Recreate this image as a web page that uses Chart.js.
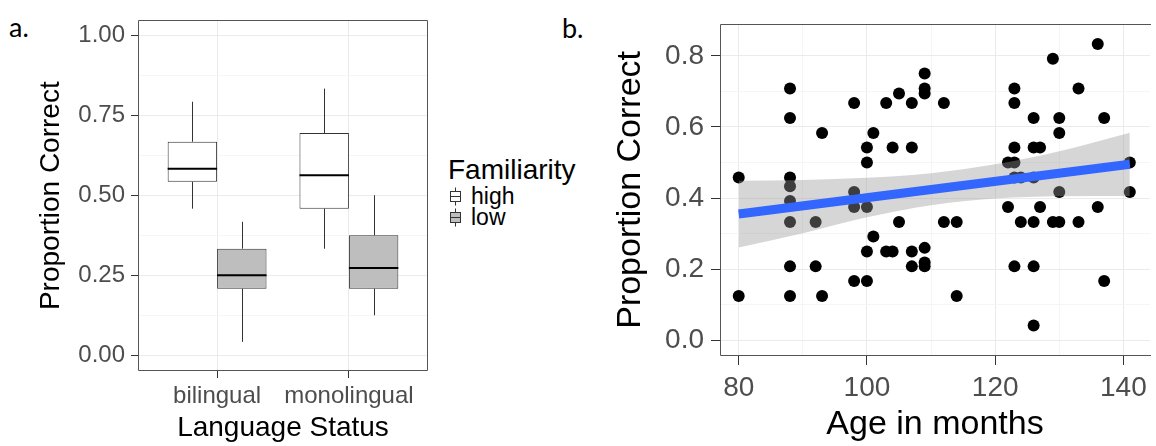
<!DOCTYPE html>
<html>
<head>
<meta charset="utf-8">
<script src="https://cdn.jsdelivr.net/npm/chart.js@4.4.1/dist/chart.umd.min.js"></script>
<style>
  html, body { margin: 0; padding: 0; background: #fff; overflow: hidden; }
  body { width: 1156px; height: 446px; position: relative; font-family: "Liberation Sans", Arial, sans-serif; }
  canvas { position: absolute; top: 0; }
  #boxCanvas { left: 0; }
  #scatterCanvas { left: 596px; }
  .tag { position: absolute; font-family: Lato, "Liberation Sans", sans-serif; font-size: 27px; line-height: 27px; color: #000; }
  #legend { position: absolute; left: 448px; top: 156px; color: #000; }
  #legend .title { font-size: 28px; line-height: 28px; margin-bottom: 1.5px; }
  #legend .row { display: flex; align-items: center; height: 21px; font-size: 23px; line-height: 21px; }
  #legend svg { margin: 0 10px 0 2px; }
</style>
</head>
<body>
<div class="tag" style="left:9px; top:13px;">a.</div>
<div class="tag" style="left:562px; top:14px;">b.</div>
<canvas id="boxCanvas" width="440" height="446"></canvas>
<canvas id="scatterCanvas" width="560" height="446"></canvas>
<div id="legend">
  <div class="title">Familiarity</div>
  <div class="row">
    <svg width="11" height="21" viewBox="0 0 11 21"><line x1="5.5" y1="1.5" x2="5.5" y2="19.5" stroke="#333"/><rect x="0.5" y="5.5" width="10" height="10" fill="#fff" stroke="#333"/><line x1="0.5" y1="10.5" x2="10.5" y2="10.5" stroke="#333"/></svg>
    <span>high</span>
  </div>
  <div class="row">
    <svg width="11" height="21" viewBox="0 0 11 21"><line x1="5.5" y1="1.5" x2="5.5" y2="19.5" stroke="#333"/><rect x="0.5" y="5.5" width="10" height="10" fill="#bebebe" stroke="#333"/><line x1="0.5" y1="10.5" x2="10.5" y2="10.5" stroke="#333"/></svg>
    <span>low</span>
  </div>
</div>
<script>
// ---- a. box plots: proportion correct by language status and familiarity ----
const languageStatus = ["bilingual", "monolingual"];
const highMin = [0.458, 0.333];
const highQ1 = [0.542, 0.458];
const highMedian = [0.583, 0.5625];
const highQ3 = [0.667, 0.694];
const highMax = [0.792, 0.833];
const lowMin = [0.042, 0.125];
const lowQ1 = [0.208, 0.208];
const lowMedian = [0.25, 0.273];
const lowQ3 = [0.333, 0.375];
const lowMax = [0.417, 0.5];
const boxMajorTicks = [0, 0.25, 0.5, 0.75, 1];
const boxMinorTicks = [0.125, 0.375, 0.625, 0.875];

// ---- b. proportion correct against age, with linear fit and 95% band ----
const ageMonths = [
  80, 80,
  88, 88, 88, 88, 88, 88, 88, 88,
  92, 92,
  93, 93,
  98, 98, 98, 98,
  100, 100, 100, 100, 100,
  101, 101,
  103, 103,
  104, 104,
  105, 105,
  107, 107, 107, 107,
  109, 109, 109, 109, 109, 109,
  112, 112,
  114, 114,
  122, 122,
  123, 123, 123, 123, 123, 123,
  124, 124,
  126, 126, 126, 126, 126, 126,
  127, 127,
  129, 129,
  130, 130, 130, 130,
  133, 133,
  136, 136,
  137, 137,
  141, 141
];
const propCorrect = [
  0.458, 0.125,
  0.708, 0.625, 0.458, 0.433, 0.392, 0.333, 0.208, 0.125,
  0.333, 0.208,
  0.583, 0.125,
  0.667, 0.417, 0.375, 0.167,
  0.542, 0.5, 0.375, 0.25, 0.167,
  0.583, 0.292,
  0.667, 0.25,
  0.542, 0.25,
  0.694, 0.333,
  0.667, 0.542, 0.25, 0.208,
  0.75, 0.708, 0.694, 0.26, 0.219, 0.208,
  0.667, 0.333,
  0.333, 0.125,
  0.5, 0.375,
  0.708, 0.667, 0.542, 0.5, 0.458, 0.208,
  0.458, 0.333,
  0.625, 0.542, 0.458, 0.333, 0.208, 0.042,
  0.542, 0.375,
  0.792, 0.333,
  0.625, 0.583, 0.417, 0.333,
  0.708, 0.333,
  0.833, 0.375,
  0.625, 0.167,
  0.5, 0.417
];
const fitAge = [80, 141];
const fitValue = [0.355, 0.495];
const bandAge = [80, 90, 100, 110, 120, 130, 141];
const bandUpper = [0.449, 0.451, 0.457, 0.470, 0.495, 0.532, 0.584];
const bandLower = [0.261, 0.301, 0.346, 0.380, 0.399, 0.405, 0.406];
const ageMajorTicks = [80, 100, 120, 140];
const ageMinorTicks = [90, 110, 130];
const propMajorTicks = [0, 0.2, 0.4, 0.6, 0.8];
const propMinorTicks = [0.1, 0.3, 0.5, 0.7];

Chart.defaults.font.family = '"Liberation Sans", Arial, sans-serif';

const GRID_MAJOR = "#ebebeb";
const GRID_MINOR = "#f5f5f5";
const TICK_TEXT = "#4d4d4d";
const FRAME = "#555555";

const near = (list, v) => list.some((t) => Math.abs(t - v) < 1e-6);

// ggplot-style panel border; panel b runs off the right edge so it stays open there.
const panelFrame = {
  id: "panelFrame",
  afterDraw(chart, _args, opts) {
    const { ctx, chartArea: a } = chart;
    const l = Math.round(a.left) + 0.5, r = Math.round(a.right) - 0.5;
    const t = Math.round(a.top) + 0.5, b = Math.round(a.bottom) - 0.5;
    ctx.save();
    ctx.strokeStyle = FRAME;
    ctx.lineWidth = 1;
    ctx.beginPath();
    if (opts.openRight) {
      ctx.moveTo(a.right + 1, t);
      ctx.lineTo(l, t);
      ctx.lineTo(l, b);
      ctx.lineTo(a.right + 1, b);
    } else {
      ctx.rect(l, t, r - l, b - t);
    }
    ctx.stroke();
    ctx.restore();
  },
};

// Whiskers and median bars on top of the floating-bar boxes.
const boxWhiskers = {
  id: "boxWhiskers",
  afterDatasetsDraw(chart) {
    const { ctx } = chart;
    const y = chart.scales.y;
    const stats = [
      { min: highMin, med: highMedian, max: highMax },
      { min: lowMin, med: lowMedian, max: lowMax },
    ];
    chart.data.datasets.forEach((ds, di) => {
      const s = stats[di];
      chart.getDatasetMeta(di).data.forEach((bar, i) => {
        const { x, width } = bar.getProps(["x", "width"], true);
        const [q1, q3] = ds.data[i].y;
        const cx = Math.round(x) + 0.5;
        ctx.save();
        ctx.strokeStyle = "#333";
        ctx.lineWidth = 1;
        ctx.beginPath();
        ctx.moveTo(cx, y.getPixelForValue(q3));
        ctx.lineTo(cx, y.getPixelForValue(s.max[i]));
        ctx.moveTo(cx, y.getPixelForValue(q1));
        ctx.lineTo(cx, y.getPixelForValue(s.min[i]));
        ctx.stroke();
        const ym = y.getPixelForValue(s.med[i]);
        ctx.strokeStyle = "#000";
        ctx.lineWidth = 2;
        ctx.beginPath();
        ctx.moveTo(x - width / 2, ym);
        ctx.lineTo(x + width / 2, ym);
        ctx.stroke();
        ctx.restore();
      });
    });
  },
};

function boxSeries(q1, q3) {
  return languageStatus.map((_, i) => ({ x: i + 1, y: [q1[i], q3[i]] }));
}

new Chart(document.getElementById("boxCanvas"), {
  type: "bar",
  data: {
    datasets: [
      {
        label: "high",
        data: boxSeries(highQ1, highQ3),
        backgroundColor: "#ffffff",
        borderColor: "#333333",
        borderWidth: 1,
        borderSkipped: false,
      },
      {
        label: "low",
        data: boxSeries(lowQ1, lowQ3),
        backgroundColor: "#bebebe",
        borderColor: "#333333",
        borderWidth: 1,
        borderSkipped: false,
      },
    ],
  },
  options: {
    responsive: false,
    animation: false,
    categoryPercentage: 0.75,
    barPercentage: 1,
    layout: { padding: { top: 12, right: 12, left: 0, bottom: 0 } },
    plugins: { legend: { display: false }, tooltip: { enabled: false }, panelFrame: { openRight: false } },
    scales: {
      x: {
        type: "linear",
        min: 0.4,
        max: 2.6,
        offset: false,
        afterBuildTicks: (scale) => { scale.ticks = languageStatus.map((_, i) => ({ value: i + 1 })); },
        afterFit: (scale) => { scale.height = 75; },
        border: { display: false },
        grid: { color: GRID_MAJOR, tickColor: "#333", tickLength: 7, offset: false },
        ticks: {
          autoSkip: false,
          maxRotation: 0,
          color: TICK_TEXT,
          font: { size: 24 },
          padding: 4,
          callback: (v) => languageStatus[Math.round(v) - 1],
        },
        title: { display: true, text: "Language Status", color: "#000", font: { size: 28, lineHeight: 1 }, padding: { top: 0, bottom: 4 } },
      },
      y: {
        min: -0.049,
        max: 1.046,
        afterBuildTicks: (scale) => {
          scale.ticks = [...boxMajorTicks, ...boxMinorTicks].sort((a, b) => a - b).map((v) => ({ value: v }));
        },
        afterFit: (scale) => { scale.width = 138; },
        border: { display: false },
        grid: {
          color: (c) => (near(boxMajorTicks, c.tick.value) ? GRID_MAJOR : GRID_MINOR),
          tickColor: (c) => (near(boxMajorTicks, c.tick.value) ? "#333" : "rgba(0,0,0,0)"),
          tickLength: 7,
        },
        ticks: {
          autoSkip: false,
          color: TICK_TEXT,
          font: { size: 24 },
          padding: 6,
          callback: (v) => (near(boxMajorTicks, v) ? v.toFixed(2) : ""),
        },
        title: { display: true, text: "Proportion Correct", color: "#000", font: { size: 28, lineHeight: 1 }, padding: { top: 37, bottom: 0 } },
      },
    },
  },
  plugins: [boxWhiskers, panelFrame],
});

new Chart(document.getElementById("scatterCanvas"), {
  type: "scatter",
  data: {
    datasets: [
      {
        label: "children",
        data: ageMonths.map((a, i) => ({ x: a, y: propCorrect[i] })),
        backgroundColor: "#000",
        borderWidth: 0,
        pointRadius: 6,
        pointHoverRadius: 6,
        order: 3,
      },
      {
        type: "line",
        label: "band upper",
        data: bandAge.map((a, i) => ({ x: a, y: bandUpper[i] })),
        showLine: true,
        fill: "+1",
        backgroundColor: "rgba(153,153,153,0.4)",
        borderWidth: 0,
        pointRadius: 0,
        cubicInterpolationMode: "monotone",
        order: 2,
      },
      {
        type: "line",
        label: "band lower",
        data: bandAge.map((a, i) => ({ x: a, y: bandLower[i] })),
        showLine: true,
        fill: false,
        borderWidth: 0,
        pointRadius: 0,
        cubicInterpolationMode: "monotone",
        order: 2,
      },
      {
        type: "line",
        label: "linear fit",
        data: fitAge.map((a, i) => ({ x: a, y: fitValue[i] })),
        showLine: true,
        fill: false,
        borderColor: "#3366ff",
        borderWidth: 9,
        borderCapStyle: "butt",
        pointRadius: 0,
        order: 1,
      },
    ],
  },
  options: {
    responsive: false,
    animation: false,
    layout: { padding: { top: 15, right: 0, left: 0, bottom: 0 } },
    plugins: { legend: { display: false }, tooltip: { enabled: false }, panelFrame: { openRight: true } },
    scales: {
      x: {
        type: "linear",
        min: 77.08,
        max: 144.15,
        afterBuildTicks: (scale) => {
          scale.ticks = [...ageMajorTicks, ...ageMinorTicks].sort((a, b) => a - b).map((v) => ({ value: v }));
        },
        afterFit: (scale) => { scale.height = 90; },
        border: { display: false },
        grid: {
          color: (c) => (near(ageMajorTicks, c.tick.value) ? GRID_MAJOR : GRID_MINOR),
          tickColor: (c) => (near(ageMajorTicks, c.tick.value) ? "#333" : "rgba(0,0,0,0)"),
          tickLength: 9,
        },
        ticks: {
          autoSkip: false,
          maxRotation: 0,
          color: TICK_TEXT,
          font: { size: 28 },
          padding: 6,
          callback: (v) => (near(ageMajorTicks, v) ? String(v) : ""),
        },
        title: { display: true, text: "Age in months", color: "#000", font: { size: 34, lineHeight: 1 }, padding: { top: 0, bottom: 4 } },
      },
      y: {
        min: -0.044,
        max: 0.89,
        afterBuildTicks: (scale) => {
          scale.ticks = [...propMajorTicks, ...propMinorTicks].sort((a, b) => a - b).map((v) => ({ value: v }));
        },
        afterFit: (scale) => { scale.width = 124; },
        border: { display: false },
        grid: {
          color: (c) => (near(propMajorTicks, c.tick.value) ? GRID_MAJOR : GRID_MINOR),
          tickColor: (c) => (near(propMajorTicks, c.tick.value) ? "#333" : "rgba(0,0,0,0)"),
          tickLength: 9,
        },
        ticks: {
          autoSkip: false,
          color: TICK_TEXT,
          font: { size: 28 },
          padding: 7,
          callback: (v) => (near(propMajorTicks, v) ? v.toFixed(1) : ""),
        },
        title: { display: true, text: "Proportion Correct", color: "#000", font: { size: 34, lineHeight: 1 }, padding: { top: 18, bottom: 0 } },
      },
    },
  },
  plugins: [panelFrame],
});
</script>
</body>
</html>
